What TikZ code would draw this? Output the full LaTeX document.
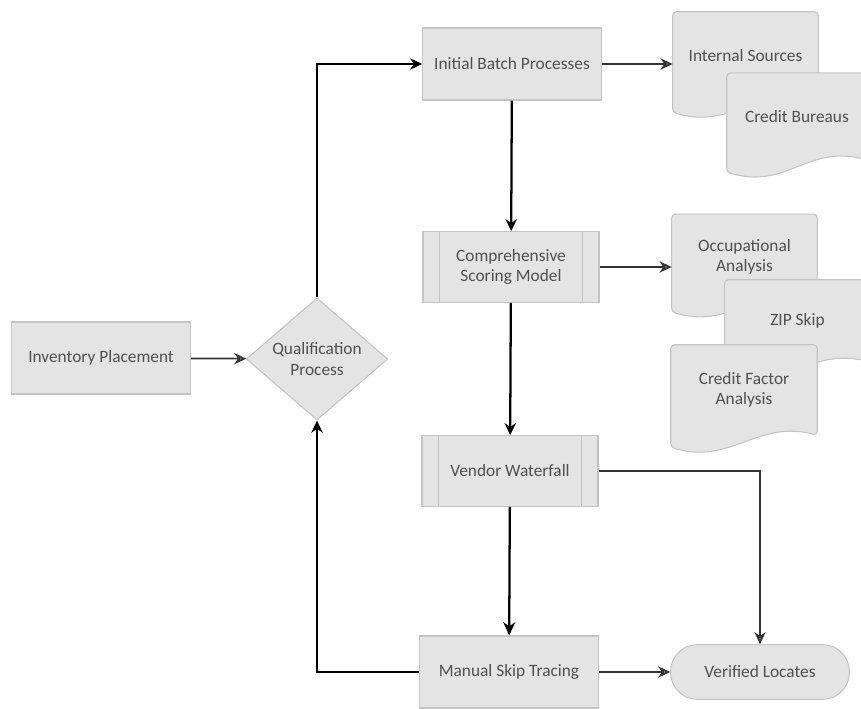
\documentclass[tikz,border=0pt]{standalone}
\usepackage{fontspec}
\setmainfont{Carlito}
\usepackage{tikz}
\usetikzlibrary{calc,arrows.meta,shapes.geometric}
\definecolor{boxfill}{HTML}{E4E4E4}
\definecolor{boxedge}{HTML}{C4C4C4}
\definecolor{boxtext}{HTML}{505050}
\newcommand{\boxfont}{\fontsize{13}{15.5}\selectfont}
\pgfdeclarelayer{background}
\pgfsetlayers{background,main}
\tikzset{
	pbox/.style={draw=boxedge,fill=boxfill,line width=0.8pt,text=boxtext,font=\boxfont,align=center,inner sep=2pt},
	docline/.style={draw=boxedge,fill=boxfill,line width=0.8pt},
	flow/.style={-{Stealth[length=9pt,width=8.5pt,fill=black!40]},draw=black,line width=1.7pt},
	hflow/.style={-{Stealth[length=9pt,width=8.5pt,fill=black!40]},draw=black!80,line width=1.3pt},
	bflow/.style={-{Stealth[length=10pt,width=9pt]},draw=black,line width=1.7pt}
}

\begin{document}
\begin{tikzpicture}[x=0.75pt,y=-0.75pt,
			proc/.style={pbox,minimum width=134pt,minimum height=54pt},
			subproc/.style={pbox,minimum width=132pt,minimum height=53pt},
			decide/.style={pbox,diamond,minimum width=106pt,minimum height=81pt,inner sep=0pt},
			term/.style={pbox,rounded corners=20pt,minimum width=134pt,minimum height=41pt},
			doc/.style={text=boxtext,font=\boxfont,align=center,inner sep=0pt}]
			\useasboundingbox (0,0) rectangle (861,709);
			\node[proc] (inv) at (101,358) {Inventory Placement};
			\node[decide] (qual) at (317,359) {Qualification\\Process};
			\node[proc] (batch) at (512,64) {Initial Batch Processes};
			\node[subproc] (scoring) at (511,267) {Comprehensive\\Scoring Model};
			\node[subproc] (vendor) at (510,471) {Vendor Waterfall};
			\node[proc] (manual) at (509,672) {Manual Skip Tracing};
			\node[term] (verified) at (760,672) {Verified Locates};
			\foreach \z/\n/\w/\h/\t in {(745.5,56)/intern/109/66/{Internal Sources},
				(797,116.5)/bureau/105/65/{Credit Bureaus},
				(744.5,257)/occup/109/64/{Occupational\\Analysis},
				(797.5,321)/zip/109/61.5/{ZIP Skip},
				(744,390)/factor/109.5/67.5/{Credit Factor\\Analysis}}
			\node[doc,minimum width=\w pt,minimum height=\h pt] (\n) at \z {\t};
			\begin{pgfonlayer}{background}
				\foreach \d in {intern,bureau,occup,zip,factor}
				\draw[docline,rounded corners=3pt] (\d.north west) -- (\d.north east) -- (\d.south east)
					.. controls ($(\d.south east)+(-60,-16)$) and ($(\d.south west)+(60,30)$) .. ($(\d.south west)+(0,12)$) -- cycle;
			\end{pgfonlayer}
			\foreach \b in {scoring,vendor}
			\draw[boxedge,line width=0.8pt] ([xshift=12.5pt]\b.north west) -- ([xshift=12.5pt]\b.south west)
				([xshift=-12.5pt]\b.north east) -- ([xshift=-12.5pt]\b.south east);
			\draw[hflow] (inv) -- (qual);
			\draw[flow] (qual.north) |- (batch.west);
			\draw[hflow] (batch.east) -- (batch.east -| intern.west);
			\draw[flow] (batch) -- (scoring);
			\draw[hflow] (scoring.east) -- (scoring.east -| occup.west);
			\draw[flow] (scoring) -- (vendor);
			\draw[bflow] (vendor) -- (manual);
			\draw[hflow] (vendor.east) -| (verified.north);
			\draw[hflow] (manual) -- (verified);
			\draw[flow] (manual.west) -| (qual.south);
		\end{tikzpicture}
\end{document}
